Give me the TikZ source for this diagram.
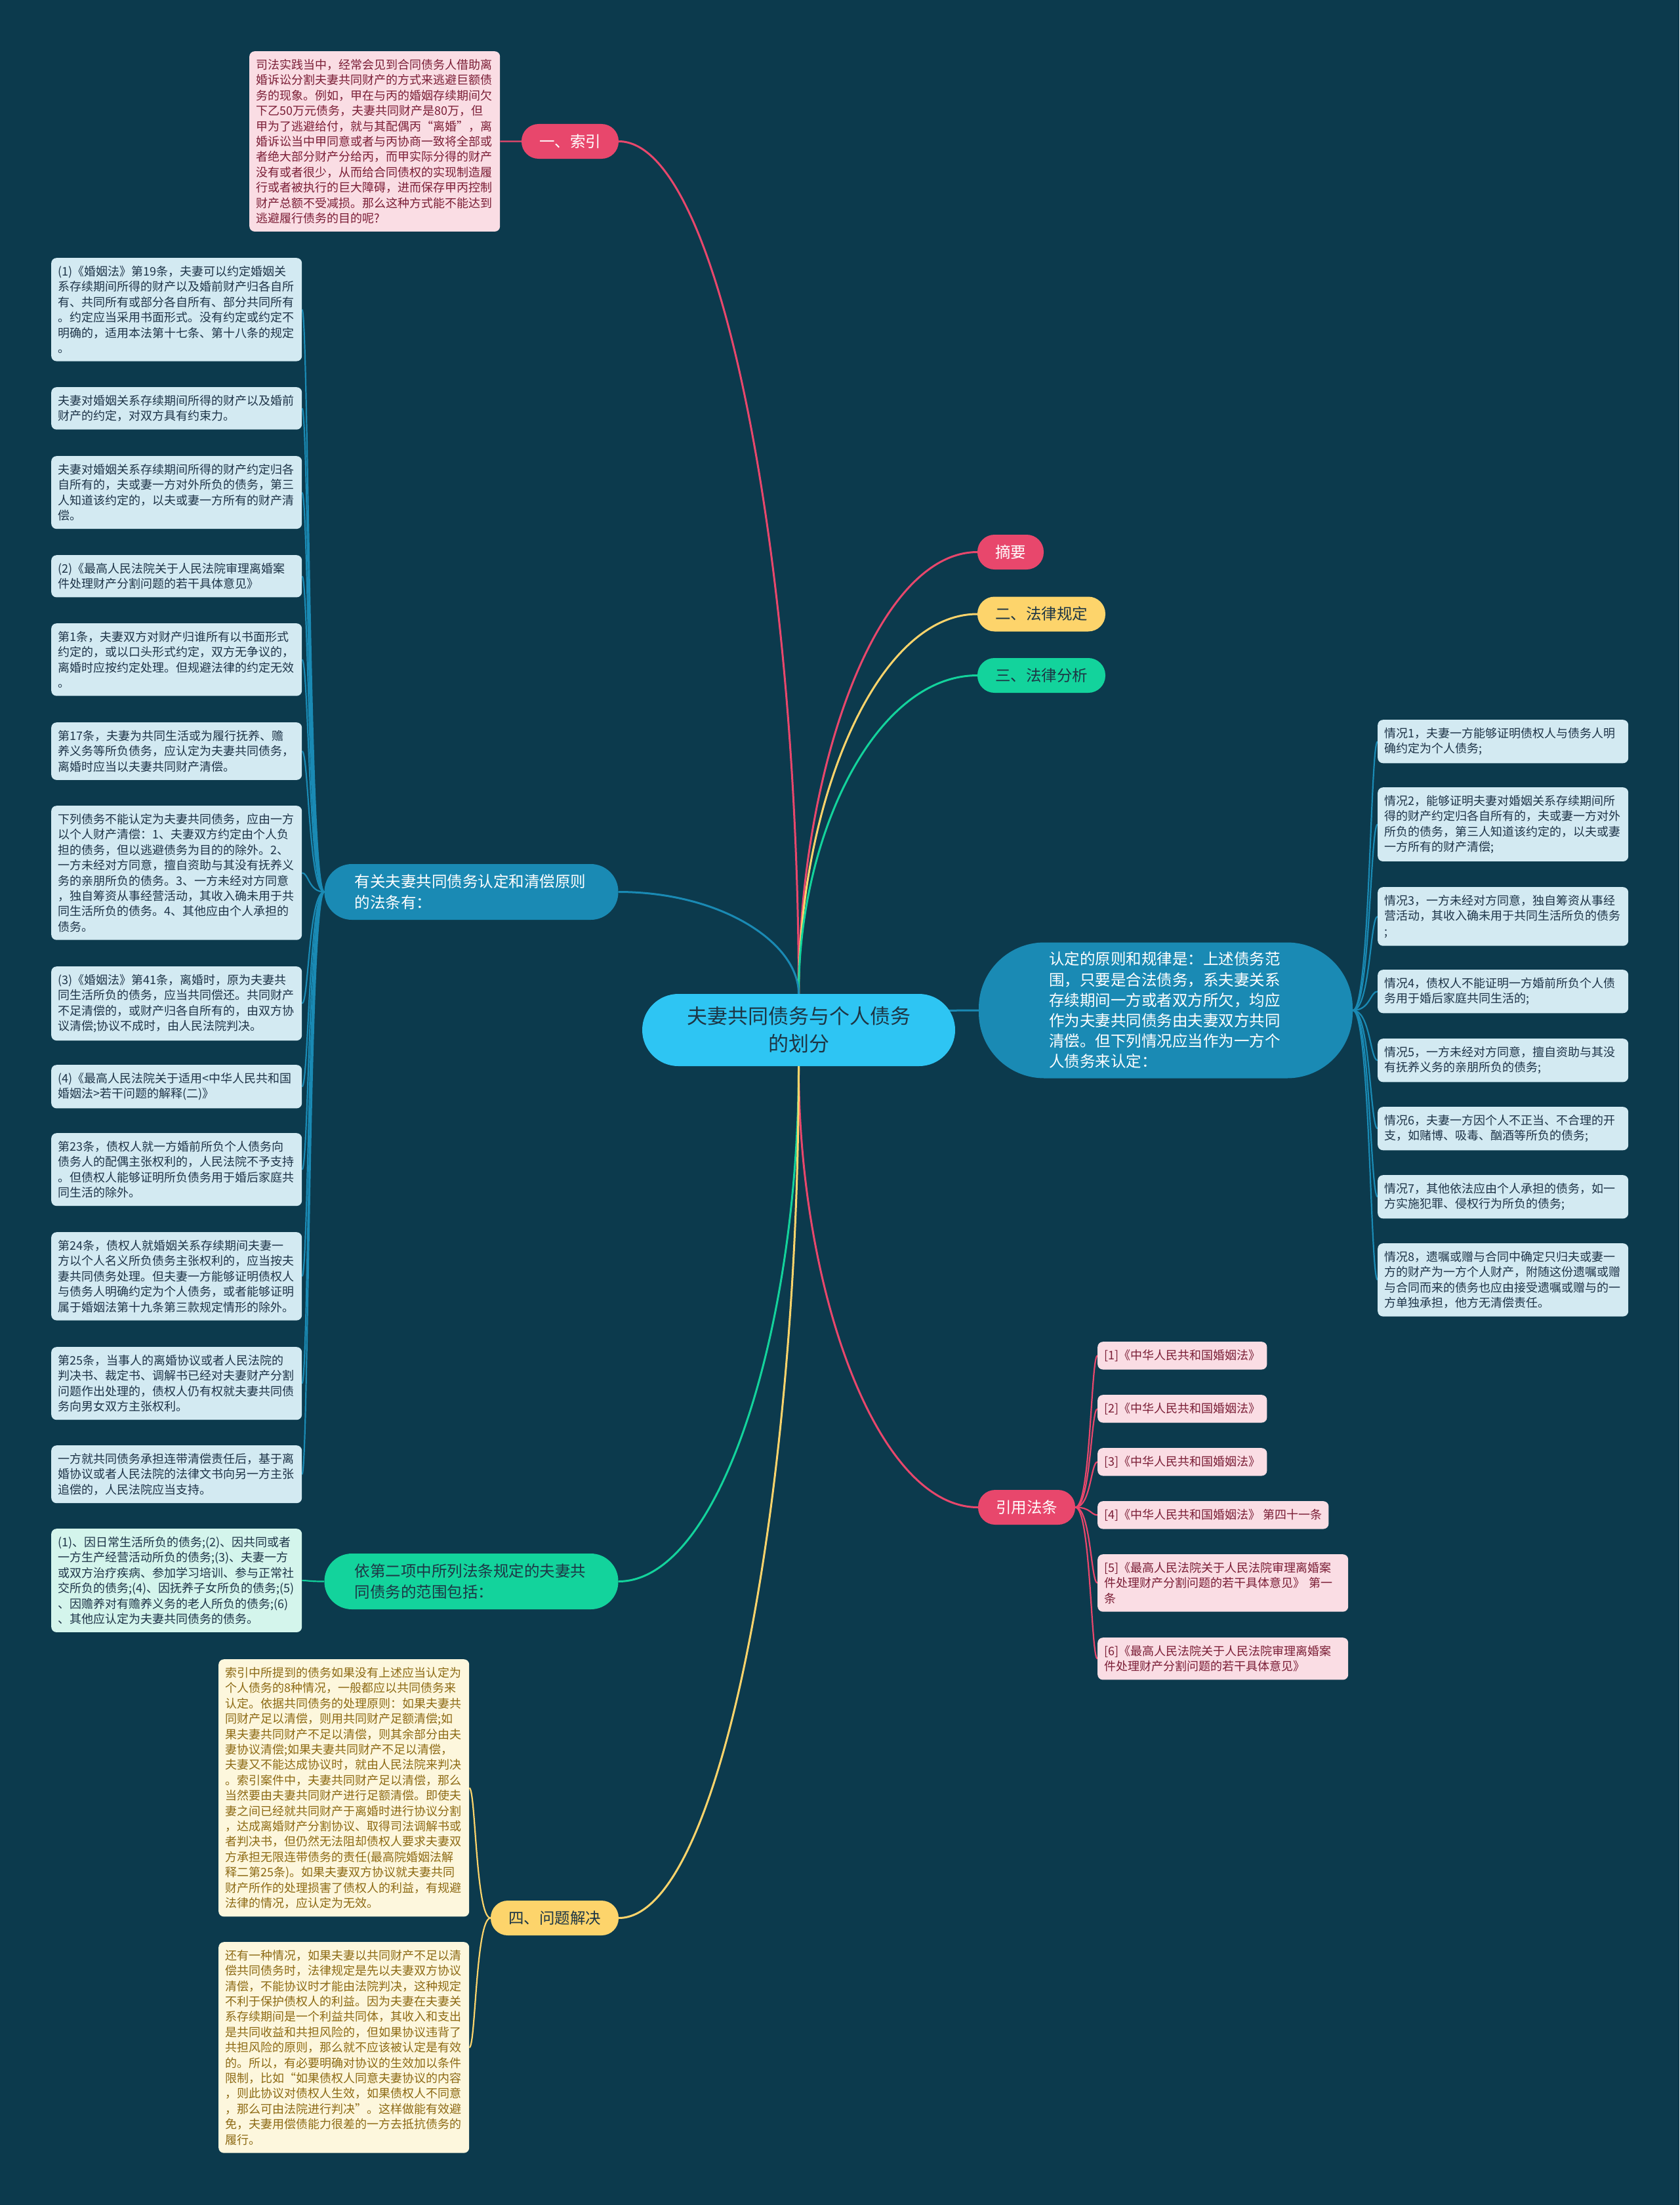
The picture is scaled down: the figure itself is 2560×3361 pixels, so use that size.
\documentclass[tikz,border=0pt]{standalone}
\usepackage{fontspec}
\setmainfont{Noto Sans CJK SC}
\usetikzlibrary{calc}
\pgfdeclarelayer{back}
\pgfdeclarelayer{conn}
\pgfsetlayers{back,conn,main}
\definecolor{bgc}{HTML}{0C3A4D}
\definecolor{pinkc}{HTML}{E8476C}
\definecolor{yelc}{HTML}{FDD46B}
\definecolor{grnc}{HTML}{13D39C}
\definecolor{bluc}{HTML}{1A8AB4}
\definecolor{cyac}{HTML}{2EC5F3}
\definecolor{lbfill}{HTML}{D3EAF2}
\definecolor{lbtext}{HTML}{1E3448}
\definecolor{mtfill}{HTML}{D4F5EC}
\definecolor{pkfill}{HTML}{FADDE4}
\definecolor{pktext}{HTML}{7B1E36}
\definecolor{ylfill}{HTML}{FDF7DD}
\definecolor{yltext}{HTML}{8D6A14}
\definecolor{darkt}{HTML}{1D3645}
\newcommand\mbranch[3]{\draw[#1] let \p1=(#2), \p2=(#3) in (\p1) .. controls (\x1,{0.5*\y1+0.5*\y2}) and ({\x1+0.43*(\x2-\x1)},\y2) .. (\p2);}
\newcommand\lbranch[3]{\draw[#1] let \p1=(#2), \p2=(#3) in (\p1) .. controls ({\x2+0.3*(\x1-\x2)},\y1) and ({\x2+0.3*(\x1-\x2)},\y2) .. (\p2);}
\begin{document}
\begin{tikzpicture}[x=1pt,y=-1pt,
  leafbase/.style={anchor=north west, rounded corners=8pt, inner xsep=10pt, inner ysep=12pt, align=left, font=\fontsize{18}{23.4}\selectfont},
  leaf/.style={leafbase, text width=362pt},
  blueleaf/.style={leaf, fill=lbfill, text=lbtext},
  mintleaf/.style={leaf, fill=mtfill, text=lbtext},
  pinkleaf/.style={leaf, fill=pkfill, text=pktext},
  refshort/.style={leafbase, fill=pkfill, text=pktext},
  yelleaf/.style={leaf, fill=ylfill, text=yltext},
  pill/.style={rounded corners=26pt, minimum height=53pt, inner xsep=27pt, inner ysep=0pt, font=\fontsize{23.5}{28}\selectfont},
  pinkpill/.style={pill, fill=pinkc, text=white},
  yelpill/.style={pill, fill=yelc, text=darkt},
  grnpill/.style={pill, fill=grnc, text=darkt},
  midnode/.style={rounded corners=42pt, minimum height=85pt, text width=356pt, inner xsep=46pt, inner ysep=8pt, align=left, font=\fontsize{23.5}{32}\selectfont},
  mainln/.style={line width=3pt},
  thinln/.style={line width=2.2pt}
]
\useasboundingbox (0,0) rectangle (2560,3361);
\begin{pgfonlayer}{back}
\fill[bgc] (0,0) rectangle (2560,3361);
\end{pgfonlayer}

% center
\node[fill=cyac, text=darkt, rounded corners=55pt, minimum width=477pt, minimum height=110pt, align=center, font=\fontsize{31}{42}\selectfont] (c) at (1217.5,1570) {夫妻共同债务与个人债务\\的划分};

% right pills
\node[pinkpill] (zy) at (1540.5,841.5) {摘要};
\node[yelpill] (fl) at (1587.5,936) {二、法律规定};
\node[grnpill] (fx) at (1587.5,1029.5) {三、法律分析};
\node[pinkpill] (yy) at (1565,2297.5) {引用法条};

% right big node
\node[fill=bluc, text=white, rounded corners=100pt, minimum height=207pt, text width=356pt, inner xsep=107pt, inner ysep=10pt, align=left, font=\fontsize{23.5}{31.2}\selectfont] (rd) at (1777,1540) {认定的原则和规律是：上述债务范\\围，只要是合法债务，系夫妻关系\\存续期间一方或者双方所欠，均应\\作为夫妻共同债务由夫妻双方共同\\清偿。但下列情况应当作为一方个\\人债务来认定：};

% right leaves
\node[blueleaf] (q1) at (2100,1097) {情况1，夫妻一方能够证明债权人与债务人明\\确约定为个人债务;};
\node[blueleaf] (q2) at (2100,1200) {情况2，能够证明夫妻对婚姻关系存续期间所\\得的财产约定归各自所有的，夫或妻一方对外\\所负的债务，第三人知道该约定的，以夫或妻\\一方所有的财产清偿;};
\node[blueleaf] (q3) at (2100,1352) {情况3，一方未经对方同意，独自筹资从事经\\营活动，其收入确未用于共同生活所负的债务\\;};
\node[blueleaf] (q4) at (2100,1478) {情况4，债权人不能证明一方婚前所负个人债\\务用于婚后家庭共同生活的;};
\node[blueleaf] (q5) at (2100,1583) {情况5，一方未经对方同意，擅自资助与其没\\有抚养义务的亲朋所负的债务;};
\node[blueleaf] (q6) at (2100,1687) {情况6，夫妻一方因个人不正当、不合理的开\\支，如赌博、吸毒、酗酒等所负的债务;};
\node[blueleaf] (q7) at (2100,1791) {情况7，其他依法应由个人承担的债务，如一\\方实施犯罪、侵权行为所负的债务;};
\node[blueleaf] (q8) at (2100,1895) {情况8，遗嘱或赠与合同中确定只归夫或妻一\\方的财产为一方个人财产，附随这份遗嘱或赠\\与合同而来的债务也应由接受遗嘱或赠与的一\\方单独承担，他方无清偿责任。};

% references
\node[refshort] (r1) at (1673,2045) {[1]《中华人民共和国婚姻法》};
\node[refshort] (r2) at (1673,2126) {[2]《中华人民共和国婚姻法》};
\node[refshort] (r3) at (1673,2207) {[3]《中华人民共和国婚姻法》};
\node[refshort] (r4) at (1673,2288) {[4]《中华人民共和国婚姻法》 第四十一条};
\node[pinkleaf] (r5) at (1673,2369) {[5]《最高人民法院关于人民法院审理离婚案\\件处理财产分割问题的若干具体意见》 第一\\条};
\node[pinkleaf] (r6) at (1673,2496) {[6]《最高人民法院关于人民法院审理离婚案\\件处理财产分割问题的若干具体意见》};

% left: index
\node[pinkpill] (s1) at (869,215.5) {一、索引};
\node[pinkleaf] (t1) at (380,78) {司法实践当中，经常会见到合同债务人借助离\\婚诉讼分割夫妻共同财产的方式来逃避巨额债\\务的现象。例如，甲在与丙的婚姻存续期间欠\\下乙50万元债务，夫妻共同财产是80万，但\\甲为了逃避给付，就与其配偶丙“离婚”，离\\婚诉讼当中甲同意或者与丙协商一致将全部或\\者绝大部分财产分给丙，而甲实际分得的财产\\没有或者很少，从而给合同债权的实现制造履\\行或者被执行的巨大障碍，进而保存甲丙控制\\财产总额不受减损。那么这种方式能不能达到\\逃避履行债务的目的呢?};

% left: laws
\node[midnode, fill=bluc, text=white] (yg) at (718.5,1359.5) {有关夫妻共同债务认定和清偿原则\\的法条有：};
\node[blueleaf] (l1) at (78,393) {(1)《婚姻法》第19条，夫妻可以约定婚姻关\\系存续期间所得的财产以及婚前财产归各自所\\有、共同所有或部分各自所有、部分共同所有\\。约定应当采用书面形式。没有约定或约定不\\明确的，适用本法第十七条、第十八条的规定\\。};
\node[blueleaf] (l2) at (78,590) {夫妻对婚姻关系存续期间所得的财产以及婚前\\财产的约定，对双方具有约束力。};
\node[blueleaf] (l3) at (78,695) {夫妻对婚姻关系存续期间所得的财产约定归各\\自所有的，夫或妻一方对外所负的债务，第三\\人知道该约定的，以夫或妻一方所有的财产清\\偿。};
\node[blueleaf] (l4) at (78,846) {(2)《最高人民法院关于人民法院审理离婚案\\件处理财产分割问题的若干具体意见》};
\node[blueleaf] (l5) at (78,950) {第1条，夫妻双方对财产归谁所有以书面形式\\约定的，或以口头形式约定，双方无争议的，\\离婚时应按约定处理。但规避法律的约定无效\\。};
\node[blueleaf] (l6) at (78,1101) {第17条，夫妻为共同生活或为履行抚养、赡\\养义务等所负债务，应认定为夫妻共同债务，\\离婚时应当以夫妻共同财产清偿。};
\node[blueleaf] (l7) at (78,1228) {下列债务不能认定为夫妻共同债务，应由一方\\以个人财产清偿：1、夫妻双方约定由个人负\\担的债务，但以逃避债务为目的的除外。2、\\一方未经对方同意，擅自资助与其没有抚养义\\务的亲朋所负的债务。3、一方未经对方同意\\，独自筹资从事经营活动，其收入确未用于共\\同生活所负的债务。4、其他应由个人承担的\\债务。};
\node[blueleaf] (l8) at (78,1473) {(3)《婚姻法》第41条，离婚时，原为夫妻共\\同生活所负的债务，应当共同偿还。共同财产\\不足清偿的，或财产归各自所有的，由双方协\\议清偿;协议不成时，由人民法院判决。};
\node[blueleaf] (l9) at (78,1623) {(4)《最高人民法院关于适用<中华人民共和国\\婚姻法>若干问题的解释(二)》};
\node[blueleaf] (l10) at (78,1727) {第23条，债权人就一方婚前所负个人债务向\\债务人的配偶主张权利的，人民法院不予支持\\。但债权人能够证明所负债务用于婚后家庭共\\同生活的除外。};
\node[blueleaf] (l11) at (78,1878) {第24条，债权人就婚姻关系存续期间夫妻一\\方以个人名义所负债务主张权利的，应当按夫\\妻共同债务处理。但夫妻一方能够证明债权人\\与债务人明确约定为个人债务，或者能够证明\\属于婚姻法第十九条第三款规定情形的除外。};
\node[blueleaf] (l12) at (78,2053) {第25条，当事人的离婚协议或者人民法院的\\判决书、裁定书、调解书已经对夫妻财产分割\\问题作出处理的，债权人仍有权就夫妻共同债\\务向男女双方主张权利。};
\node[blueleaf] (l13) at (78,2203) {一方就共同债务承担连带清偿责任后，基于离\\婚协议或者人民法院的法律文书向另一方主张\\追偿的，人民法院应当支持。};

% left: scope
\node[midnode, fill=grnc, text=darkt] (yj) at (718.5,2410.5) {依第二项中所列法条规定的夫妻共\\同债务的范围包括：};
\node[mintleaf] (m1) at (78,2330) {(1)、因日常生活所负的债务;(2)、因共同或者\\一方生产经营活动所负的债务;(3)、夫妻一方\\或双方治疗疾病、参加学习培训、参与正常社\\交所负的债务;(4)、因抚养子女所负的债务;(5)\\、因赡养对有赡养义务的老人所负的债务;(6)\\、其他应认定为夫妻共同债务的债务。};

% left: solution
\node[yelpill] (wt) at (845.5,2923.5) {四、问题解决};
\node[yelleaf] (w1) at (333,2529) {索引中所提到的债务如果没有上述应当认定为\\个人债务的8种情况，一般都应以共同债务来\\认定。依据共同债务的处理原则：如果夫妻共\\同财产足以清偿，则用共同财产足额清偿;如\\果夫妻共同财产不足以清偿，则其余部分由夫\\妻协议清偿;如果夫妻共同财产不足以清偿，\\夫妻又不能达成协议时，就由人民法院来判决\\。索引案件中，夫妻共同财产足以清偿，那么\\当然要由夫妻共同财产进行足额清偿。即使夫\\妻之间已经就共同财产于离婚时进行协议分割\\，达成离婚财产分割协议、取得司法调解书或\\者判决书，但仍然无法阻却债权人要求夫妻双\\方承担无限连带债务的责任(最高院婚姻法解\\释二第25条)。如果夫妻双方协议就夫妻共同\\财产所作的处理损害了债权人的利益，有规避\\法律的情况，应认定为无效。};
\node[yelleaf] (w2) at (333,2960) {还有一种情况，如果夫妻以共同财产不足以清\\偿共同债务时，法律规定是先以夫妻双方协议\\清偿，不能协议时才能由法院判决，这种规定\\不利于保护债权人的利益。因为夫妻在夫妻关\\系存续期间是一个利益共同体，其收入和支出\\是共同收益和共担风险的，但如果协议违背了\\共担风险的原则，那么就不应该被认定是有效\\的。所以，有必要明确对协议的生效加以条件\\限制，比如“如果债权人同意夫妻协议的内容\\，则此协议对债权人生效，如果债权人不同意\\，那么可由法院进行判决”。这样做能有效避\\免，夫妻用偿债能力很差的一方去抵抗债务的\\履行。};

\begin{pgfonlayer}{conn}
\mbranch{mainln, pinkc}{c.north}{s1.east}
\mbranch{mainln, pinkc}{c.north}{zy.west}
\mbranch{mainln, yelc}{c.north}{fl.west}
\mbranch{mainln, grnc}{c.north}{fx.west}
\mbranch{mainln, bluc}{c.north}{yg.east}
\mbranch{mainln, bluc}{c.center}{rd.west}
\mbranch{mainln, grnc}{c.south}{yj.east}
\mbranch{mainln, pinkc}{c.south}{yy.west}
\mbranch{mainln, yelc}{c.south}{wt.east}
\lbranch{thinln, pinkc}{s1.west}{t1.east}
\foreach \i in {1,...,13} {\lbranch{thinln, bluc}{yg.west}{l\i.east}}
\lbranch{thinln, grnc}{yj.west}{m1.east}
\lbranch{thinln, yelc}{wt.west}{w1.east}
\lbranch{thinln, yelc}{wt.west}{w2.east}
\foreach \i in {1,...,8} {\lbranch{thinln, bluc}{rd.east}{q\i.west}}
\foreach \i in {1,...,6} {\lbranch{thinln, pinkc}{yy.east}{r\i.west}}
\end{pgfonlayer}
\end{tikzpicture}
\end{document}
